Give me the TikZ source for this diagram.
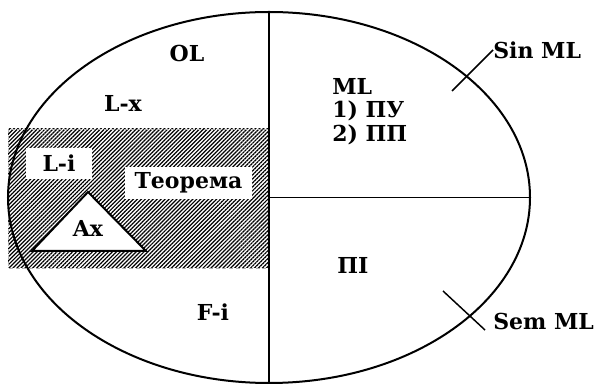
\documentclass[tikz,border=0pt]{standalone}
\usepackage{fontspec}
\setmainfont{DejaVu Serif}
\usetikzlibrary{shapes.geometric,patterns.meta}

\tikzset{
  lbl/.style={font=\bfseries\fontsize{16.5}{17.6}\selectfont,inner sep=0pt},
  whitebox/.style={lbl,fill=white,minimum height=23.5pt},
  tick/.style={line width=1.1pt}
}

\begin{document}
\begin{tikzpicture}[x=0.75pt,y=-0.75pt]
  \useasboundingbox (0,0) rectangle (596,384);
  % hatched part
  \fill[pattern={Lines[angle=45,distance=2.1pt,line width=0.9pt]}] (8,129) rectangle (268,268);
  \draw[gray!60,densely dashed,line width=0.4pt] (268,129)--(8,129)--(8,268)--(268,268);
  % the big oval
  \node[ellipse,draw,line width=1.5pt,inner sep=0pt,minimum width=391.5pt,minimum height=278.25pt] (OL) at (269,197.5) {};
  \draw[line width=1.3pt] (OL.north)--(269,384);
  \draw[line width=1.1pt] (OL.center)--(OL.east);
  % boxes in the hatch
  \node[whitebox,minimum width=49.5pt] (Li) at (59,163.5) {L-i};
  \node[whitebox,minimum width=95pt] (teo) at (188.5,183) {Теорема};
  \coordinate (axl) at (32,251);
  \coordinate (axr) at (146,251);
  \coordinate (axt) at (88,192);
  \draw[fill=white,line width=1.5pt] (axl)--(axr)--(axt)--cycle;
  \node[lbl] (Ax) at (88,228) {Ax};
  % labels
  \node[lbl] (ol) at (187,53) {OL};
  \node[lbl] (Lx) at (123,103) {L-x};
  \node[lbl] (Fi) at (213,312) {F-i};
  \node[lbl,align=left,anchor=north west] (ml) at (332,78) {ML\\1) ПУ\\2) ПП};
  \node[lbl] (pi) at (353,265) {ПI};
  \node[lbl,anchor=west] (sinml) at (493,50) {Sin ML};
  \node[lbl,anchor=south west] (semml) at (493,330) {Sem ML};
  \coordinate (sintick) at (452,91);
  \coordinate (semtick) at (443,291);
  \draw[tick] (sintick)--(sinml.west);
  \draw[tick] (semtick)--([xshift=-6pt]semml.south west);
\end{tikzpicture}
\end{document}
